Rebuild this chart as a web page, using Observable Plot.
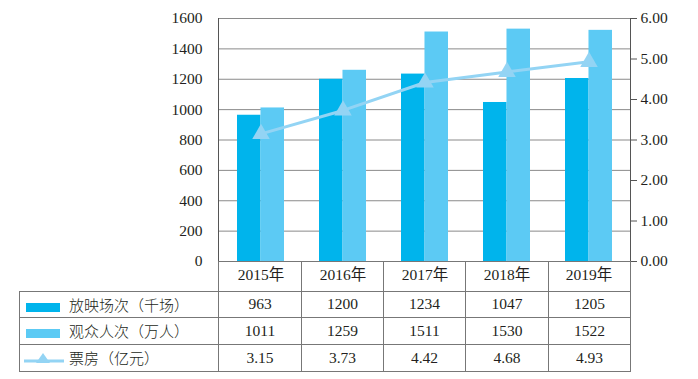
<!DOCTYPE html>
<html>
<head>
<meta charset="utf-8">
<script src="https://cdn.jsdelivr.net/npm/d3@7"></script>
<script src="https://cdn.jsdelivr.net/npm/@observablehq/plot@0.6"></script>
<style>
  html, body { margin: 0; padding: 0; background: #fff; }
  #wrap { position: relative; width: 698px; height: 379px; overflow: hidden; font-family: "Liberation Serif", "Times New Roman", Tinos, "DejaVu Serif", "Noto Sans CJK SC", serif; color: #231f20; }
  #wrap svg.plot { position: absolute; left: 0; top: 0; }
  #wrap svg.plot text { font-family: "Liberation Serif", "Times New Roman", Tinos, "Noto Sans CJK SC", serif; }
  table { position: absolute; left: 19px; top: 261px; border-collapse: collapse; table-layout: fixed; font-size: 15.5px; }
  td { padding: 0; text-align: center; border: 1px solid #777; }
  tr.head td { border-top: none; }
  tr.head td.blank { border: none; }
  td.name { text-align: left; font-family: "Noto Sans CJK SC", sans-serif; font-size: 15px; font-weight: 300; white-space: nowrap; }
  .sw { display: inline-block; width: 34px; height: 9px; margin-left: 6px; margin-right: 9px; vertical-align: -1px; }
  .lsw { display: inline-block; width: 40px; height: 14px; margin-left: 4px; margin-right: 5px; vertical-align: -2px; }
</style>
</head>
<body>
<div id="wrap"></div>
<script>
const years = ["2015年", "2016年", "2017年", "2018年", "2019年"];
const screenings = [963, 1200, 1234, 1047, 1205];      // 放映场次（千场）
const audience = [1011, 1259, 1511, 1530, 1522];       // 观众人次（万人）
const boxOffice = [3.15, 3.73, 4.42, 4.68, 4.93];      // 票房（亿元）
const seriesNames = ["放映场次（千场）", "观众人次（万人）", "票房（亿元）"];
const leftTicks = [0, 200, 400, 600, 800, 1000, 1200, 1400, 1600];
const rightTicks = [0, 1, 2, 3, 4, 5, 6];

const darkBlue = "#00b4ec";
const lightBlue = "#5ccaf4";
const lineBlue = "#93d4f4";
const k = 1600 / 6; // right axis -> left axis units

const data = years.map((year, i) => ({year, screenings: screenings[i], audience: audience[i], box: boxOffice[i]}));

const pad = 0.43;
const step = (630 - 218) / years.length;
const half = step * (1 - pad) / 2;
const fontFam = '"Liberation Serif", "Times New Roman", Tinos, "Noto Sans CJK SC", serif';

const chart = Plot.plot({
  width: 698,
  height: 291,
  marginLeft: 218,
  marginRight: 68,
  marginTop: 18,
  marginBottom: 30,
  style: {fontFamily: fontFam, fontSize: "15.5px", color: "#231f20", background: "transparent"},
  x: {domain: years, paddingInner: pad, paddingOuter: pad / 2, axis: null},
  y: {domain: [0, 1600], axis: null},
  marks: [
    Plot.gridY(leftTicks, {stroke: "#8a8a8a", strokeOpacity: 1}),
    Plot.barY(data, {x: "year", y: "screenings", fill: darkBlue, insetRight: half, insetLeft: 0}),
    Plot.barY(data, {x: "year", y: "audience", fill: lightBlue, insetLeft: half, insetRight: 0}),
    Plot.line(data, {x: "year", y: d => d.box * k, stroke: lineBlue, strokeWidth: 3}),
    Plot.dot(data, {x: "year", y: d => d.box * k, symbol: "triangle", r: 6.5, fill: lineBlue, stroke: null}),
    Plot.frame({anchor: "left", stroke: "#555"}),
    Plot.frame({anchor: "right", stroke: "#555"}),
    Plot.ruleY([0], {stroke: "#777"}),
    Plot.axisY(leftTicks, {anchor: "left", tickSize: 0, tickPadding: 16, fontSize: 15.5, fill: "#231f20", tickFormat: d => String(d), label: null}),
    Plot.axisY(rightTicks.map(v => v * k), {anchor: "right", tickSize: 6, tickPadding: 4, stroke: "#555", fontSize: 15.5, fill: "#231f20", tickFormat: d => (d / k).toFixed(2), label: null}),
    Plot.axisX({anchor: "bottom", tickSize: 0, tickPadding: 7, fontSize: 15.5, fill: "#231f20", label: null})
  ]
});
chart.classList.add("plot");
const wrap = document.getElementById("wrap");
wrap.appendChild(chart);

// data table below the chart
const colW = [199, 83, 82, 82, 83, 82];
const table = document.createElement("table");
table.style.width = d3.sum(colW) + "px";
const cg = document.createElement("colgroup");
colW.forEach(w => { const c = document.createElement("col"); c.style.width = w + "px"; cg.appendChild(c); });
table.appendChild(cg);

const head = document.createElement("tr");
head.className = "head";
head.style.height = "30px";
const blank = document.createElement("td"); blank.className = "blank"; head.appendChild(blank);
years.forEach(() => { const td = document.createElement("td"); head.appendChild(td); });
table.appendChild(head);

const rows = [
  {name: seriesNames[0], values: screenings.map(String), swatch: `<span class="sw" style="background:${darkBlue}"></span>`, h: 26},
  {name: seriesNames[1], values: audience.map(String), swatch: `<span class="sw" style="background:${lightBlue}"></span>`, h: 27},
  {name: seriesNames[2], values: boxOffice.map(v => v.toFixed(2)), swatch: `<svg class="lsw" viewBox="0 0 40 14"><line x1="0" y1="9" x2="40" y2="9" stroke="${lineBlue}" stroke-width="3"/><path d="M19,1 L26,11 L12,11 Z" fill="${lineBlue}"/></svg>`, h: 27}
];
rows.forEach(r => {
  const tr = document.createElement("tr");
  tr.style.height = r.h + "px";
  const nm = document.createElement("td");
  nm.className = "name";
  nm.innerHTML = r.swatch + r.name;
  tr.appendChild(nm);
  r.values.forEach(v => { const td = document.createElement("td"); td.textContent = v; tr.appendChild(td); });
  table.appendChild(tr);
});
wrap.appendChild(table);
</script>
</body>
</html>
